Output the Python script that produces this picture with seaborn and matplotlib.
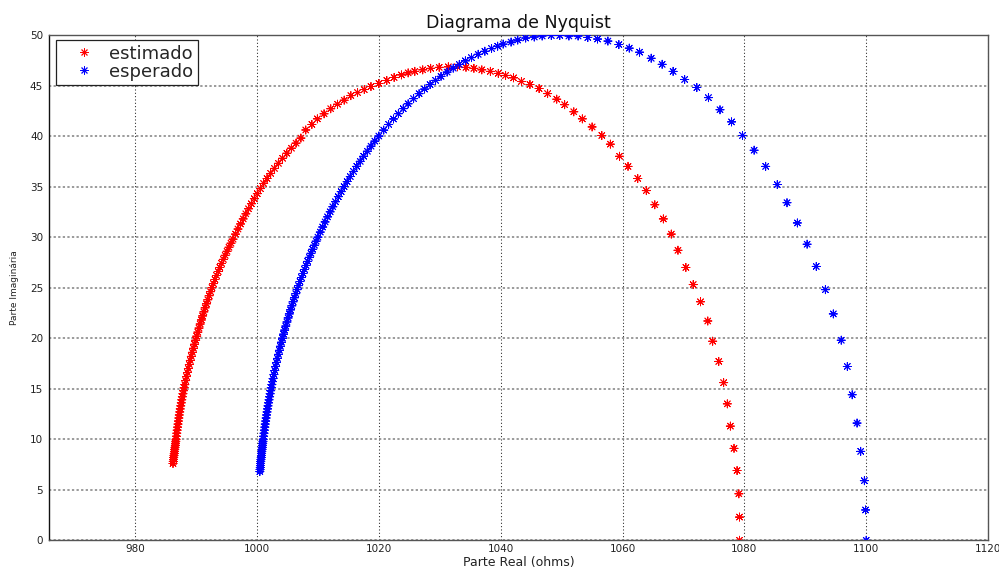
import matplotlib
matplotlib.use("Agg")
import matplotlib.pyplot as plt
from matplotlib.lines import Line2D
import pandas as pd
import seaborn as sns

# Impedance arc computed from the identified model ("estimado")
red_real = [986.20, 986.24, 986.28, 986.32, 986.36, 986.40, 986.44, 986.49, 986.53, 986.58, 986.62, 986.66, 986.70,
            986.76, 986.82, 986.88, 986.95, 987.02, 987.09, 987.16, 987.23, 987.31, 987.39, 987.47, 987.56, 987.64,
            987.73, 987.83, 987.93, 988.03,
            988.14, 988.28, 988.42, 988.57, 988.72, 988.88, 989.04, 989.21, 989.38, 989.56, 989.74, 989.92,
            990.09, 990.28, 990.47, 990.66, 990.86, 991.06, 991.27, 991.48, 991.70, 991.92, 992.14, 992.37, 992.60,
            992.84, 993.09, 993.35, 993.62, 993.89, 994.17, 994.46, 994.76, 995.07, 995.39, 995.72, 996.06,
            996.46, 996.87, 997.29, 997.72, 998.16, 998.61, 999.07, 999.55, 1000.04, 1000.55,
            1001.08, 1001.64, 1002.23, 1002.85, 1003.50, 1004.18, 1004.89, 1005.63, 1006.40, 1007.20,
            1008.0, 1009.0, 1009.9, 1011.0, 1012.1, 1013.2, 1014.3, 1015.4, 1016.5, 1017.6, 1018.7,
            1020.0, 1021.3, 1022.5, 1023.7, 1024.8, 1025.9, 1027.2, 1028.5, 1029.9, 1031.4,
            1032.9, 1034.3, 1035.6, 1036.9, 1038.3, 1039.6, 1040.8, 1042.1, 1043.4, 1044.8,
            1046.3, 1047.7, 1049.2, 1050.5, 1052.0, 1053.4, 1055.0, 1056.6, 1058.0, 1059.5,
            1060.9, 1062.5, 1063.9, 1065.3, 1066.7, 1068.0, 1069.1, 1070.4, 1071.6, 1072.8,
            1074.0, 1074.8, 1075.8, 1076.6, 1077.2, 1077.7, 1078.3, 1078.8, 1079.1, 1079.2, 1079.2]
red_imag = [7.6, 7.8, 8.0, 8.2, 8.4, 8.6, 8.8, 9.0, 9.2, 9.4, 9.6, 9.8, 10.0,
            10.3, 10.6, 10.9, 11.2, 11.5, 11.8, 12.1, 12.4, 12.7, 13.0, 13.3, 13.6, 13.9, 14.2, 14.5, 14.8, 15.1,
            15.4, 15.8, 16.2, 16.6, 17.0, 17.4, 17.8, 18.2, 18.6, 19.0, 19.4, 19.8,
            20.2, 20.6, 21.0, 21.4, 21.8, 22.2, 22.6, 23.0, 23.4, 23.8, 24.2, 24.6, 25.0,
            25.4, 25.8, 26.2, 26.6, 27.0, 27.4, 27.8, 28.2, 28.6, 29.0, 29.4, 29.8,
            30.3, 30.8, 31.3, 31.8, 32.3, 32.8, 33.3, 33.8, 34.3, 34.8,
            35.3, 35.8, 36.3, 36.8, 37.3, 37.8, 38.3, 38.8, 39.3, 39.8,
            40.6, 41.15, 41.7, 42.2, 42.7, 43.15, 43.55, 44.0, 44.3, 44.6, 44.9,
            45.2, 45.5, 45.8, 46.05, 46.25, 46.4, 46.55, 46.7, 46.8, 46.85,
            46.85, 46.8, 46.7, 46.55, 46.4, 46.2, 46.0, 45.76, 45.4, 45.1,
            44.7, 44.2, 43.65, 43.1, 42.4, 41.7, 40.9, 40.06, 39.2, 38.0,
            37.0, 35.8, 34.6, 33.2, 31.8, 30.3, 28.7, 27.0, 25.3, 23.6,
            21.7, 19.7, 17.7, 15.6, 13.5, 11.3, 9.1, 6.9, 4.6, 2.3, 0.0]

# Theoretical arc of the reference circuit ("esperado")
blue_real = [1000.46, 1000.49, 1000.52, 1000.55, 1000.58, 1000.61, 1000.64, 1000.68, 1000.71, 1000.75, 1000.78,
             1000.82, 1000.85, 1000.89, 1000.93, 1000.97, 1001.01,
             1001.07, 1001.14, 1001.20, 1001.27, 1001.34, 1001.41, 1001.49, 1001.56, 1001.64, 1001.72, 1001.80,
             1001.89, 1001.97, 1002.06, 1002.15, 1002.24, 1002.33, 1002.43, 1002.53,
             1002.63, 1002.77, 1002.91, 1003.05, 1003.20, 1003.35, 1003.51, 1003.67, 1003.83, 1004.00, 1004.17,
             1004.35, 1004.53, 1004.72, 1004.91, 1005.10, 1005.30, 1005.50, 1005.71, 1005.92, 1006.14, 1006.36,
             1006.58, 1006.81, 1007.05, 1007.29, 1007.54, 1007.79, 1008.05, 1008.31, 1008.57, 1008.85, 1009.13,
             1009.41, 1009.70,
             1010.00, 1010.38, 1010.77, 1011.17, 1011.58, 1012.00, 1012.44, 1012.88, 1013.34, 1013.81, 1014.29,
             1014.79, 1015.30, 1015.83, 1016.37, 1016.93, 1017.50, 1018.10, 1018.71, 1019.34, 1020.00,
             1020.8, 1021.6, 1022.4, 1023.2, 1024.0, 1024.8, 1025.7, 1026.6, 1027.5, 1028.4, 1029.3,
             1030.2, 1031.2, 1032.2, 1033.2, 1034.2, 1035.2, 1036.3, 1037.4, 1038.5, 1039.5,
             1040.4, 1041.7, 1042.8, 1044.1, 1045.5, 1046.8, 1048.3, 1049.7, 1051.2, 1052.7,
             1054.3, 1055.9, 1057.6, 1059.4, 1061.1, 1062.8, 1064.7, 1066.5, 1068.3, 1070.2,
             1072.2, 1074.1, 1076.0, 1077.9, 1079.7, 1081.6, 1083.5, 1085.4, 1087.0, 1088.7,
             1090.3, 1091.8, 1093.3, 1094.6, 1095.9, 1096.9, 1097.7, 1098.5, 1099.1, 1099.7, 1099.9, 1100.0]
blue_imag = [6.8, 7.0, 7.2, 7.4, 7.6, 7.8, 8.0, 8.2, 8.4, 8.6, 8.8, 9.0, 9.2, 9.4, 9.6, 9.8, 10.0,
             10.3, 10.6, 10.9, 11.2, 11.5, 11.8, 12.1, 12.4, 12.7, 13.0, 13.3, 13.6, 13.9, 14.2, 14.5, 14.8,
             15.1, 15.4, 15.7,
             16.0, 16.4, 16.8, 17.2, 17.6, 18.0, 18.4, 18.8, 19.2, 19.6, 20.0, 20.4, 20.8, 21.2, 21.6, 22.0,
             22.4, 22.8, 23.2, 23.6, 24.0, 24.4, 24.8, 25.2, 25.6, 26.0, 26.4, 26.8, 27.2, 27.6, 28.0, 28.4,
             28.8, 29.2, 29.6,
             30.0, 30.5, 31.0, 31.5, 32.0, 32.5, 33.0, 33.5, 34.0, 34.5, 35.0, 35.5, 36.0, 36.5, 37.0, 37.5,
             38.0, 38.5, 39.0, 39.5, 40.0,
             40.59, 41.15, 41.69, 42.21, 42.71, 43.19, 43.70, 44.19, 44.65, 45.09, 45.51,
             45.91, 46.33, 46.72, 47.09, 47.44, 47.76, 48.09, 48.39, 48.66, 48.89,
             49.1, 49.3, 49.5, 49.7, 49.8, 49.9, 49.95, 49.95, 49.9, 49.9,
             49.75, 49.6, 49.4, 49.05, 48.7, 48.3, 47.7, 47.1, 46.4, 45.6,
             44.8, 43.8, 42.6, 41.4, 40.06, 38.6, 37.0, 35.2, 33.4, 31.4,
             29.3, 27.1, 24.8, 22.4, 19.8, 17.2, 14.4, 11.6, 8.8, 5.9, 3.0, 0.0]

series_names = ["estimado", "esperado"]
series_colors = {"estimado": "#ff0000", "esperado": "#0000ff"}
x_ticks = [980, 1000, 1020, 1040, 1060, 1080, 1100, 1120]
y_ticks = [0, 5, 10, 15, 20, 25, 30, 35, 40, 45, 50]

df = pd.concat([
    pd.DataFrame({"real": red_real, "imag": red_imag, "serie": series_names[0]}),
    pd.DataFrame({"real": blue_real, "imag": blue_imag, "serie": series_names[1]}),
], ignore_index=True)

sns.set_style("white")
plt.rcParams["font.family"] = ["DejaVu Sans"]

fig = plt.figure(figsize=(9.99, 5.67), dpi=100)
ax = fig.add_axes([0.0494, 0.0471, 0.9396, 0.8912])

# eight-spoke asterisk, like MATLAB's '*'
asterisk = (8, 2, 0)
sns.scatterplot(data=df, x="real", y="imag", hue="serie", palette=series_colors,
                marker=asterisk, s=34, linewidth=0.65, legend=False, ax=ax, zorder=3)

ax.set_xlim(965.9, 1120)
ax.set_ylim(0, 50)
ax.set_xticks(x_ticks)
ax.set_yticks(y_ticks)

# MATLAB-like dotted grid
ax.set_axisbelow(True)
ax.xaxis.grid(True, linestyle=(0, (1, 2.2)), color="#222222", linewidth=0.75)
ax.yaxis.grid(True, linestyle=(0, (1.5, 1.5)), color="#808080", linewidth=1.1)

for side, spine in ax.spines.items():
    spine.set_visible(True)
    spine.set_linewidth(1.0)
    spine.set_color("#555555")
ax.spines["left"].set_color("#111111")

ax.tick_params(axis="both", direction="in", length=3, width=0.8, labelsize=7.5,
               labelcolor="#222222", color="#444444")
ax.tick_params(axis="x", pad=2.5)
ax.tick_params(axis="y", pad=4.5)

ax.set_title("Diagrama de Nyquist", fontsize=12.5, pad=5, color="#111111")
ax.set_xlabel("Parte Real (ohms)", fontsize=9, labelpad=1.5, color="#222222")
ax.set_ylabel("Parte Imaginária", fontsize=6.5, labelpad=8, color="#222222")

handles = [Line2D([], [], linestyle="", marker=asterisk, markersize=5.8,
                  markeredgewidth=0.65, color=series_colors[name]) for name in series_names]
leg = ax.legend(handles, series_names, loc="upper left", bbox_to_anchor=(0.0071, 0.9895),
                borderaxespad=0, fontsize=13, labelspacing=0.0, borderpad=0.25,
                handlelength=2.6, handletextpad=0.1, fancybox=False, framealpha=1,
                edgecolor="#222222")
leg.get_frame().set_linewidth(0.9)

fig.savefig("out.png", dpi=100, facecolor="white")
